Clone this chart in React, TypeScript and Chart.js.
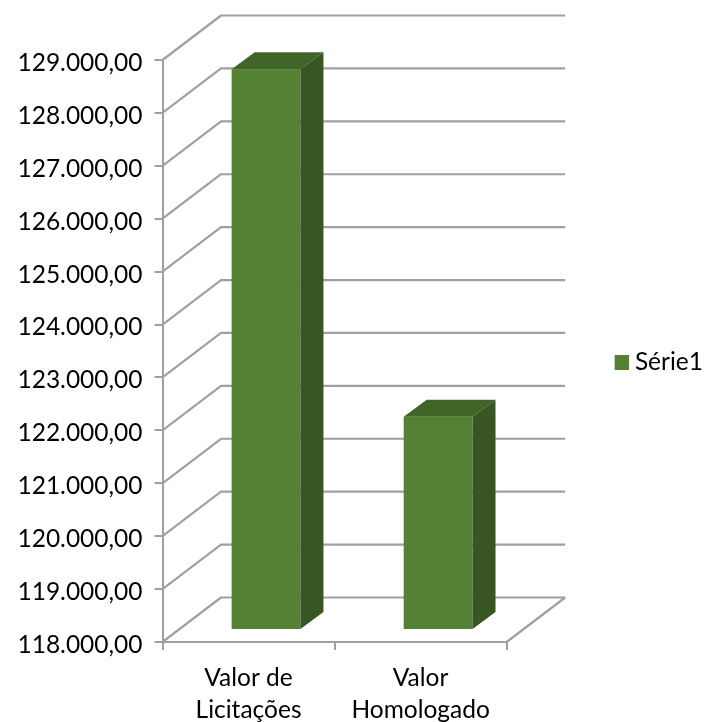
import React, { useEffect, useRef } from "react";
import { Chart, registerables } from "chart.js";

Chart.register(...registerables);

const categories: string[][] = [["Valor de", "Licitações"], ["Valor", "Homologado"]];
const seriesName = "Série1";
const seriesValues: number[] = [128600, 122030];
const axisMin = 118000;
const axisMax = 129000;
const axisStep = 1000;

const FRONT = "#558135";
const TOP = "#416429";
const SIDE = "#375623";
const GRID = "#a0a0a0";
const WALL_DX = 58.5;
const WALL_DY = -44.5;
const BAR_DX = 17.5;
const BAR_DY = -12;
const DEPTH_DX = 23;
const DEPTH_DY = -17;
const FONT = "Lato, Carlito, 'Open Sans', sans-serif";

const formatTick = (v: number) =>
  v.toLocaleString("de-DE", { minimumFractionDigits: 2, maximumFractionDigits: 2 });

const walls3d = {
  id: "walls3d",
  beforeDatasetsDraw(chart: any) {
    const { ctx, chartArea: a, scales } = chart;
    ctx.save();
    ctx.strokeStyle = GRID;
    ctx.lineWidth = 2.2;
    ctx.lineJoin = "round";
    scales.y.ticks.forEach((_: any, i: number) => {
      const y = scales.y.getPixelForTick(i);
      ctx.beginPath();
      ctx.moveTo(a.left, y);
      ctx.lineTo(a.left + WALL_DX, y + WALL_DY);
      ctx.lineTo(a.right + WALL_DX, y + WALL_DY);
      ctx.stroke();
    });
    ctx.beginPath();
    ctx.moveTo(a.right, a.bottom);
    ctx.lineTo(a.right + WALL_DX, a.bottom + WALL_DY);
    ctx.stroke();
    ctx.restore();
    ctx.save();
    ctx.translate(BAR_DX, BAR_DY);
  },
  afterDatasetsDraw(chart: any) {
    const { ctx } = chart;
    chart.getDatasetMeta(0).data.forEach((bar: any) => {
      const l = bar.x - bar.width / 2;
      const r = bar.x + bar.width / 2;
      ctx.fillStyle = TOP;
      ctx.beginPath();
      ctx.moveTo(l, bar.y);
      ctx.lineTo(l + DEPTH_DX, bar.y + DEPTH_DY);
      ctx.lineTo(r + DEPTH_DX, bar.y + DEPTH_DY);
      ctx.lineTo(r, bar.y);
      ctx.closePath();
      ctx.fill();
      ctx.fillStyle = SIDE;
      ctx.beginPath();
      ctx.moveTo(r, bar.y);
      ctx.lineTo(r + DEPTH_DX, bar.y + DEPTH_DY);
      ctx.lineTo(r + DEPTH_DX, bar.base + DEPTH_DY);
      ctx.lineTo(r, bar.base);
      ctx.closePath();
      ctx.fill();
    });
    ctx.restore();
  },
};

function legendSwatch() {
  const c = document.createElement("canvas");
  c.width = 15;
  c.height = 15;
  const g = c.getContext("2d")!;
  g.fillStyle = FRONT;
  g.fillRect(0, 0, 15, 15);
  return c;
}

export default function App() {
  const ref = useRef<HTMLCanvasElement | null>(null);
  useEffect(() => {
    const chart = new Chart(ref.current!, {
      type: "bar",
      data: {
        labels: categories as any,
        datasets: [
          {
            label: seriesName,
            data: seriesValues,
            base: axisMin,
            backgroundColor: FRONT,
            barPercentage: 0.4,
            categoryPercentage: 1,
            clip: false as any,
          },
        ],
      },
      plugins: [walls3d],
      options: {
        responsive: false,
        animation: false,
        layout: { padding: { top: 3, left: 0, right: -6, bottom: 0 } },
        plugins: {
          tooltip: { enabled: false },
          title: { display: false },
          legend: {
            display: true,
            position: "right",
            labels: {
              usePointStyle: true,
              pointStyle: legendSwatch() as any,
              pointStyleWidth: 3,
              boxHeight: 15,
              color: "#000",
              padding: 5,
              font: { family: FONT, size: 24.5 },
            },
          },
        },
        scales: {
          x: {
            grid: { drawOnChartArea: false, drawTicks: true, tickLength: 8, color: GRID, lineWidth: 2 },
            border: { display: true, color: GRID, width: 2 },
            ticks: {
              color: "#000",
              padding: 12,
              maxRotation: 0,
              font: { family: FONT, size: 24.5, lineHeight: 1.3 },
            },
            afterFit: (s: any) => {
              s.height = 80;
            },
          },
          y: {
            min: axisMin,
            max: axisMax,
            grid: { drawOnChartArea: false, drawTicks: true, tickLength: 8, color: GRID, lineWidth: 2 },
            border: { display: true, color: GRID, width: 2 },
            ticks: {
              stepSize: axisStep,
              color: "#000",
              padding: 12,
              labelOffset: 3,
              font: { family: FONT, size: 24.5 },
              callback: (v: any) => formatTick(Number(v)),
            },
            afterFit: (s: any) => {
              s.width = 162.5;
            },
          },
          padRight: {
            position: "right",
            display: true,
            min: 0,
            max: 1,
            grid: { display: false },
            border: { display: false },
            ticks: { display: false },
            afterFit: (s: any) => {
              s.width = 108;
            },
          },
          padTop: {
            type: "linear",
            position: "top",
            display: true,
            min: 0,
            max: 1,
            grid: { display: false },
            border: { display: false },
            ticks: { display: false },
            afterFit: (s: any) => {
              s.height = 57;
            },
          },
        },
      } as any,
    });
    return () => chart.destroy();
  }, []);
  return (
    <div style={{ position: "absolute", left: 0, top: 0, width: 707, height: 722 }}>
      <canvas ref={ref} width={707} height={722} style={{ display: "block" }} />
    </div>
  );
}
